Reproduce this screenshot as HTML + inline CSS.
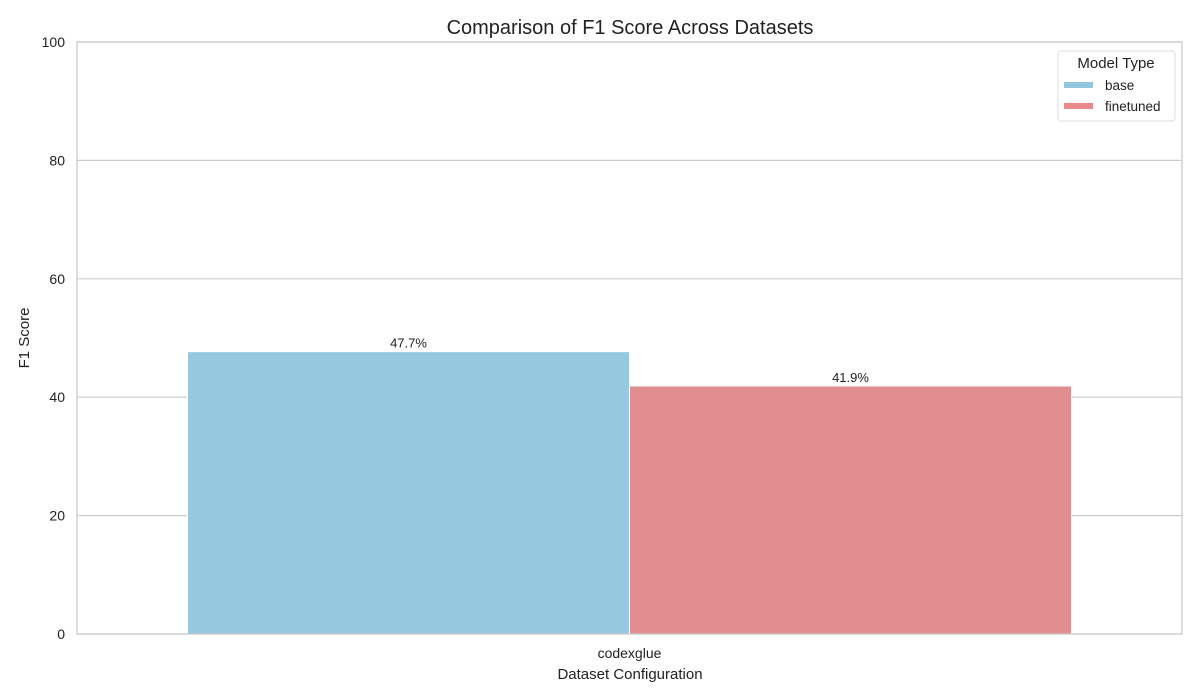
<!DOCTYPE html>
<html><head><meta charset="utf-8"><style>
body{margin:0;background:#fff;}
svg{display:block;font-family:"Liberation Sans",sans-serif;}
</style></head><body>
<svg id="chart" width="1200" height="700">
<rect x="0" y="0" width="1200" height="700" fill="#fff"/>
<text x="630" y="34" text-anchor="middle" font-size="20" fill="#222">Comparison of F1 Score Across Datasets</text>
<g id="grid"></g>
<g id="bars"></g>
<rect x="77" y="42" width="1105" height="592" fill="none" stroke="#ccc" stroke-width="1.3"/>
<text x="630" y="679" text-anchor="middle" font-size="15" fill="#222">Dataset Configuration</text>
<text transform="translate(29,338) rotate(-90)" text-anchor="middle" font-size="15" fill="#222">F1 Score</text>
<g>
<rect x="1058" y="51" width="117" height="70" rx="3" fill="#fff" stroke="#ddd"/>
<text x="1116" y="68" text-anchor="middle" font-size="15" fill="#222">Model Type</text>
<rect x="1064" y="82" width="29" height="6" fill="#92c5de"/>
<text x="1105" y="90" font-size="13.5" fill="#222">base</text>
<rect x="1064" y="103" width="29" height="6" fill="#e88a8c"/>
<text x="1105" y="111" font-size="13.5" fill="#222">finetuned</text>
</g>
</svg>
<script>
const categories=["codexglue"];
const seriesNames=["base","finetuned"];
const baseValues=[47.7];
const finetunedValues=[41.9];
const yTicks=[0,20,40,60,80,100];
const colors=["#96c9df","#e28d8f"];
const ns="http://www.w3.org/2000/svg";
const X0=77,X1=1182,Y0=634,Y1=42;
const y=v=>Y0-(v/100)*(Y0-Y1);
const catW=(X1-X0)/categories.length;
const xCat=i=>X0+catW*(i+0.5);
const grid=document.getElementById('grid'),bars=document.getElementById('bars');
function mk(t,a,p){const e=document.createElementNS(ns,t);for(const k in a)e.setAttribute(k,a[k]);p.appendChild(e);return e;}
yTicks.forEach(t=>{
  const l=mk('line',{x1:X0,x2:X1,y1:y(t),y2:y(t),stroke:'#ccc','stroke-width':1.2},grid);
  
  
  const tx=mk('text',{x:X0-12,y:y(t)+5,'text-anchor':'end','font-size':14,fill:'#222'},grid);
  tx.textContent=t;
  
  
});
const series=[baseValues,finetunedValues];
const groupW=catW*0.8, bw=groupW/series.length;
categories.forEach((c,i)=>{
  series.forEach((vals,s)=>{
    const v=vals[i];
    const bx=xCat(i)-groupW/2+s*bw;
    const r=mk('rect',{x:bx,y:y(v),width:bw,height:Y0-y(v),fill:colors[s],stroke:'#fff','stroke-width':1},bars);
    
    
    const lb=mk('text',{x:bx+bw/2,y:y(v)-4,'text-anchor':'middle','font-size':13,fill:'#222'},bars);
    lb.textContent=v.toFixed(1)+'%';
    
    
  });
  const ct=mk('text',{x:xCat(i),y:Y0+24,'text-anchor':'middle','font-size':14,fill:'#222'},bars);
  ct.textContent=c;
  
  
});
</script>
</body></html>
